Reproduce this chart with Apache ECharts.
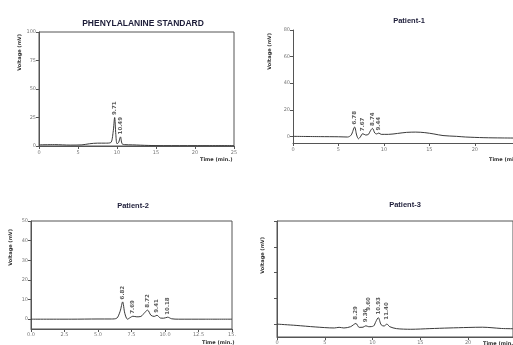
<!DOCTYPE html>
<html>
<head>
<meta charset="utf-8">
<title>Chromatograms</title>
<script src="https://cdn.jsdelivr.net/npm/echarts@6/dist/echarts.min.js"></script>
<style>
  html, body { margin: 0; padding: 0; background: #fff; }
  #main { width: 513px; height: 345px; }
</style>
</head>
<body>
<div id="main"></div>
<script type="text/javascript">
// panel titles
var titles = ['PHENYLALANINE STANDARD', 'Patient-1', 'Patient-2', 'Patient-3'];

// standard: time (min) / voltage (mV)
var stdTime = [0, 2, 4, 5.5, 6.5, 7.5, 8.5, 9.2, 9.5, 9.7, 9.85, 10.0, 10.2, 10.45, 10.65, 11, 12, 14, 16, 20, 25];
var stdVolt = [1, 1.2, 0.8, 1, 2, 2.5, 2.5, 3, 12, 25, 10, 2, 3, 8, 2, 1.2, 1, 0.5, 0.3, 0.3, 0.3];
var stdPeakTime = [9.7, 10.45];
var stdPeakVolt = [25, 8];
var stdPeakText = ['9.71', '10.49'];

// patient 1
var p1Time = [0, 3, 5, 6, 6.4, 6.78, 7.0, 7.2, 7.4, 7.67, 8.0, 8.3, 8.5, 8.74, 9.0, 9.2, 9.44, 9.7, 10.5, 11.5, 12.5, 13.5, 14.5, 15.5, 16.5, 18, 19, 21, 23, 25];
var p1Volt = [0, -0.2, -0.3, -0.5, 1, 7, 1, -1.8, -0.5, 2, 1, 1.5, 4, 6, 2.5, 1.8, 2.5, 1.5, 1.5, 2.2, 3, 3.2, 2.8, 1.8, 0.6, 0, -0.5, -1, -1.2, -1.3];
var p1PeakTime = [6.78, 7.67, 8.74, 9.44];
var p1PeakVolt = [7, 2, 6, 2.5];
var p1PeakText = ['6.78', '7.67', '8.74', '9.44'];

// patient 2
var p2Time = [0, 3, 5, 6, 6.4, 6.65, 6.84, 7.0, 7.2, 7.4, 7.6, 7.9, 8.2, 8.5, 8.7, 8.95, 9.2, 9.4, 9.65, 9.9, 10.2, 10.5, 11, 13, 15];
var p2Volt = [0, 0, 0.1, 0.1, 0.5, 4, 8.8, 3, 0, 0.8, 1.5, 1.2, 1.4, 3.5, 4.6, 2, 1.4, 2, 0.6, 0.5, 1, 0.2, 0, 0, 0];
var p2PeakTime = [6.84, 7.6, 8.7, 9.4, 10.2];
var p2PeakVolt = [8.8, 1.5, 4.6, 2, 1];
var p2PeakText = ['6.82', '7.69', '8.72', '9.41', '10.18'];

// patient 3
var p3Time = [0, 2, 4, 6, 6.5, 7, 7.7, 8.26, 8.6, 9.0, 9.3, 9.6, 10.1, 10.35, 10.6, 10.9, 11.2, 11.5, 11.8, 12.5, 14, 16, 18, 20, 21.5, 22.5, 23.5, 25];
var p3Volt = [0, -1, -2.2, -3, -2.5, -3, -2, 0.5, -2.5, -2.4, -1.3, -2, -1.5, 2, 5, -0.5, -1.5, 0, -2, -3.5, -4, -3.5, -3, -2.6, -2.4, -2.8, -3.4, -3.6];
var p3PeakTime = [8.26, 9.3, 9.6, 10.6, 11.5];
var p3PeakVolt = [1.5, -0.5, 8.5, 5.5, 1.5];
var p3PeakText = ['8.29', '9.36', '9.60', '10.93', '11.40'];

// axis ticks
var stdYTicks = [0, 25, 50, 75, 100];
var p1YTicks = [0, 20, 40, 60, 80];
var p2YTicks = [0, 10, 20, 30, 40, 50];
var p3YTicks = [0, 20, 40, 60, 80];
var p2XLabels = ['0.0', '2.5', '5.0', '7.5', '10.0', '12.5', '15.'];

var lineColor = '#3a3a3a';
var axisColor = '#555';
var labelColor = '#777';

function pairs(xs, ys) {
    var out = [];
    for (var i = 0; i < xs.length; i++) {
        out.push([xs[i], ys[i]]);
    }
    return out;
}

function peakData(xs, ys, texts) {
    var out = [];
    for (var i = 0; i < xs.length; i++) {
        out.push({ value: [xs[i], ys[i]], text: texts[i] });
    }
    return out;
}

// clipped = axis runs off the right edge of the picture
function makeX(idx, max, interval, margin, clipped, fmt) {
    return {
        type: 'value', gridIndex: idx, min: 0, max: max, interval: interval,
        axisLine: { onZero: false, lineStyle: { color: axisColor, width: 1 } },
        axisTick: { length: 3, lineStyle: { color: axisColor } },
        axisLabel: { fontSize: 5, color: labelColor, margin: margin, formatter: fmt,
                     showMaxLabel: !clipped, fontFamily: 'DejaVu Sans' },
        splitLine: { show: false }
    };
}

function makeY(idx, min, max, ticks, showLabel) {
    return {
        type: 'value', gridIndex: idx, min: min, max: max,
        axisLine: { show: true, onZero: false, lineStyle: { color: axisColor, width: 1 } },
        axisTick: { show: true, length: 3, customValues: ticks, lineStyle: { color: axisColor } },
        axisLabel: { show: showLabel, fontSize: 5, color: labelColor, margin: 3, customValues: ticks,
                     fontFamily: 'DejaVu Sans' },
        splitLine: { show: false }
    };
}

function lineSeries(idx, xs, ys) {
    return {
        type: 'line', xAxisIndex: idx, yAxisIndex: idx,
        data: pairs(xs, ys), smooth: 0.3, symbol: 'none', clip: true,
        lineStyle: { color: lineColor, width: 1 }
    };
}

function peakSeries(idx, xs, ys, texts) {
    return {
        type: 'scatter', xAxisIndex: idx, yAxisIndex: idx,
        data: peakData(xs, ys, texts), symbolSize: 1,
        itemStyle: { color: 'rgba(0,0,0,0)' },
        label: {
            show: true, position: 'top', distance: 2, rotate: 90,
            align: 'left', verticalAlign: 'middle',
            fontSize: 5.5, fontWeight: 'bold', color: '#333', fontFamily: 'DejaVu Sans',
            formatter: function (p) { return p.data.text; }
        }
    };
}

function titleItem(text, x, y, size) {
    return {
        text: text, left: x, top: y, textAlign: 'center',
        textStyle: { fontSize: size, fontWeight: 'bold', color: '#1c1c38', fontFamily: 'Liberation Sans' }
    };
}

function sideText(text, x, y, rot) {
    return {
        type: 'text', left: x, top: y, rotation: rot,
        style: { text: text, fontSize: 5, fontWeight: 'bold', fill: '#333', fontFamily: 'DejaVu Sans' }
    };
}

var chart = echarts.init(document.getElementById('main'), null, { renderer: 'canvas' });

var option = {
    animation: false,
    backgroundColor: '#fff',
    title: [
        titleItem(titles[0], 138, 14, 8.5),
        titleItem(titles[1], 404, 12, 7.5),
        titleItem(titles[2], 128, 197, 7.5),
        titleItem(titles[3], 400, 196, 7.5)
    ],
    grid: [
        { left: 39, right: 279, top: 32, bottom: 199, show: true, borderColor: axisColor, borderWidth: 1 },
        { left: 293, right: 0, top: 30, bottom: 202 },
        { left: 31, right: 281, top: 221, bottom: 16, show: true, borderColor: axisColor, borderWidth: 1 },
        { left: 277, right: 0, top: 221, bottom: 7, show: true, borderColor: axisColor, borderWidth: 1 }
    ],
    xAxis: [
        makeX(0, 25, 5, 4, false),
        makeX(1, 24.2, 5, 4, true),
        makeX(2, 15, 2.5, 3, false, function (v) { return p2XLabels[Math.round(v / 2.5)]; }),
        makeX(3, 24.7, 5, 3, true)
    ],
    yAxis: [
        makeY(0, 0, 100, stdYTicks, true),
        makeY(1, -5, 80, p1YTicks, true),
        makeY(2, -5, 50, p2YTicks, true),
        makeY(3, -10, 80, p3YTicks, false)
    ],
    graphic: [
        sideText('Voltage (mV)', 17, 34, Math.PI / 2),
        sideText('Voltage (mV)', 267, 33, Math.PI / 2),
        sideText('Voltage (mV)', 8, 229, Math.PI / 2),
        sideText('Voltage (mV)', 260, 237, Math.PI / 2),
        sideText('Time (min.)', 200, 157, 0),
        sideText('Time (min.)', 489, 157, 0),
        sideText('Time (min.)', 202, 340, 0),
        sideText('Time (min.)', 483, 341, 0)
    ],
    series: [
        lineSeries(0, stdTime, stdVolt),
        peakSeries(0, stdPeakTime, stdPeakVolt, stdPeakText),
        lineSeries(1, p1Time, p1Volt),
        peakSeries(1, p1PeakTime, p1PeakVolt, p1PeakText),
        lineSeries(2, p2Time, p2Volt),
        peakSeries(2, p2PeakTime, p2PeakVolt, p2PeakText),
        lineSeries(3, p3Time, p3Volt),
        peakSeries(3, p3PeakTime, p3PeakVolt, p3PeakText)
    ]
};

chart.setOption(option);
</script>
</body>
</html>
